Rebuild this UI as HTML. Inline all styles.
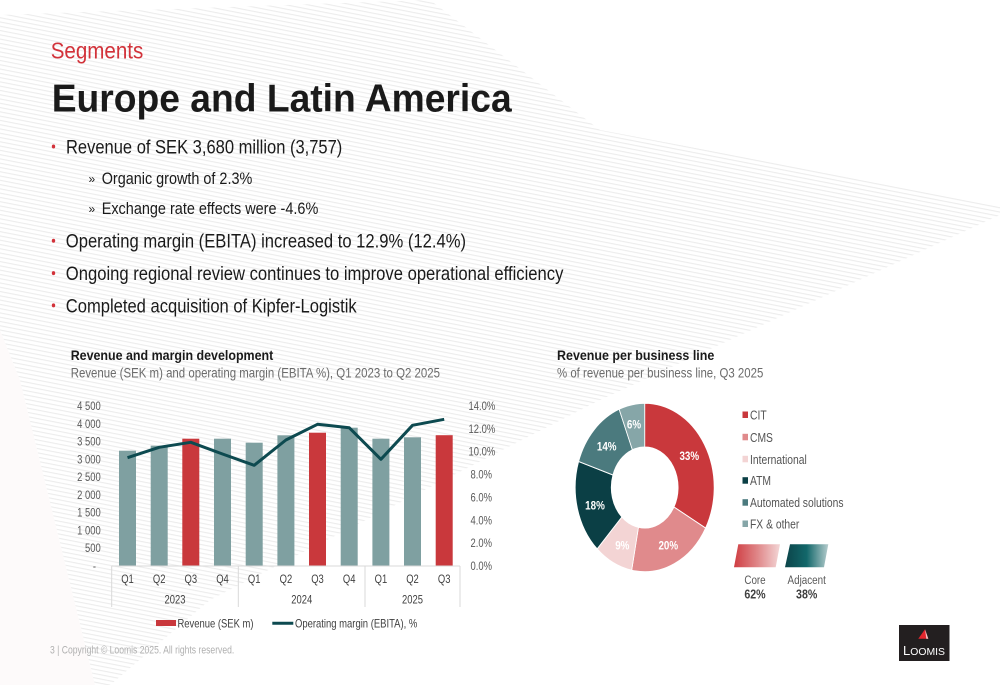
<!DOCTYPE html>
<html><head><meta charset="utf-8"><style>
html,body{margin:0;padding:0;background:#fff;}
svg{display:block;}
text{font-family:"Liberation Sans",Arial,sans-serif;}
</style></head><body>
<svg width="1000" height="685" viewBox="0 0 1000 685" xmlns="http://www.w3.org/2000/svg">
<defs>
<pattern id="st" patternUnits="userSpaceOnUse" width="20" height="4.2" patternTransform="rotate(11)">
<rect width="20" height="4.2" fill="#ffffff"/>
<rect y="0" width="20" height="1.1" fill="#ececec"/>
</pattern>
<linearGradient id="gcore" x1="0" x2="1" y1="0" y2="0">
<stop offset="0" stop-color="#cf3d42"/><stop offset="0.5" stop-color="#df8587"/><stop offset="1" stop-color="#f3d6d6"/>
</linearGradient>
<linearGradient id="gadj" x1="0" x2="1" y1="0" y2="0">
<stop offset="0" stop-color="#0c4449"/><stop offset="0.5" stop-color="#12676a"/><stop offset="1" stop-color="#b5cccd"/>
</linearGradient>
</defs>
<rect width="1000" height="685" fill="#fff"/>
<polygon points="0,330 20,380 95,685 0,685" fill="#fdfafa"/>
<polygon points="0,15 430,0 600,130 1000,205 1000,215 600,400 210,600 110,685 95,685 20,380 0,330" fill="url(#st)"/>

<!-- Header -->
<text x="50.7" y="58.3" font-size="23" fill="#d2323a" textLength="92.6" lengthAdjust="spacingAndGlyphs">Segments</text>
<text x="51.7" y="111.7" font-size="39" font-weight="bold" fill="#1a1a1a" textLength="460" lengthAdjust="spacingAndGlyphs">Europe and Latin America</text>

<!-- Bullets -->
<g fill="#d2323a">
<ellipse cx="53.5" cy="146.5" rx="1.7" ry="2"/>
<ellipse cx="53.5" cy="240.8" rx="1.7" ry="2"/>
<ellipse cx="53.5" cy="273.1" rx="1.7" ry="2"/>
<ellipse cx="53.5" cy="305.4" rx="1.7" ry="2"/>
</g>
<g fill="#1a1a1a" font-size="19.5">
<text x="66" y="153.3" textLength="276.3" lengthAdjust="spacingAndGlyphs">Revenue of SEK 3,680 million (3,757)</text>
<text x="65.8" y="247.7" textLength="400.2" lengthAdjust="spacingAndGlyphs">Operating margin (EBITA) increased to 12.9% (12.4%)</text>
<text x="65.8" y="280" textLength="497.6" lengthAdjust="spacingAndGlyphs">Ongoing regional review continues to improve operational efficiency</text>
<text x="65.8" y="312.3" textLength="290.9" lengthAdjust="spacingAndGlyphs">Completed acquisition of Kipfer-Logistik</text>
</g>
<g fill="#1a1a1a" font-size="17">
<text x="88.5" y="183" font-size="12">»</text>
<text x="101.7" y="184" textLength="150.6" lengthAdjust="spacingAndGlyphs">Organic growth of 2.3%</text>
<text x="88.5" y="213" font-size="12">»</text>
<text x="101.7" y="214" textLength="216.6" lengthAdjust="spacingAndGlyphs">Exchange rate effects were -4.6%</text>
</g>

<!-- Chart titles -->
<text x="70.7" y="360" font-size="14" font-weight="bold" fill="#1a1a1a" textLength="202.6" lengthAdjust="spacingAndGlyphs">Revenue and margin development</text>
<text x="70.7" y="377.3" font-size="14" fill="#6b6b6b" textLength="369.3" lengthAdjust="spacingAndGlyphs">Revenue (SEK m) and operating margin (EBITA %), Q1 2023 to Q2 2025</text>
<text x="557" y="360" font-size="14" font-weight="bold" fill="#1a1a1a" textLength="157.3" lengthAdjust="spacingAndGlyphs">Revenue per business line</text>
<text x="557" y="377.3" font-size="14" fill="#6b6b6b" textLength="206.3" lengthAdjust="spacingAndGlyphs">% of revenue per business line, Q3 2025</text>

<!-- Bar chart -->
<g fill="#7fa0a1">
<rect x="119" y="450.7" width="17" height="115.3"/>
<rect x="150.7" y="445.7" width="17" height="120.3"/>
<rect x="214" y="438.7" width="17" height="127.3"/>
<rect x="245.7" y="442.7" width="17" height="123.3"/>
<rect x="277.4" y="435.3" width="17" height="130.7"/>
<rect x="340.7" y="427.7" width="17" height="138.3"/>
<rect x="372.4" y="438.7" width="17" height="127.3"/>
<rect x="404" y="437.3" width="17" height="128.7"/>
</g>
<g fill="#c9383c">
<rect x="182.3" y="438.7" width="17" height="127.3"/>
<rect x="309" y="432.7" width="17" height="133.3"/>
<rect x="435.7" y="435.2" width="17" height="130.8"/>
</g>
<polyline points="127.5,457.7 159.2,447.3 190.8,442.3 222.5,454 254.2,465.3 285.9,440 317.5,424.3 349.2,427.7 380.9,459.3 412.5,425.3 444.2,419.3" fill="none" stroke="#0d4a50" stroke-width="3" stroke-linejoin="round"/>
<g stroke="#d9d9d9" stroke-width="1" fill="none">
<line x1="111.7" y1="566" x2="460" y2="566"/>
<line x1="111.7" y1="566" x2="111.7" y2="607"/>
<line x1="238.3" y1="566" x2="238.3" y2="607"/>
<line x1="365" y1="566" x2="365" y2="607"/>
<line x1="460" y1="566" x2="460" y2="607"/>
</g>
<g fill="#595959" font-size="11.5" text-anchor="end">
<text transform="translate(100.7 410) scale(.82 1)">4 500</text>
<text transform="translate(100.7 427.8) scale(.82 1)">4 000</text>
<text transform="translate(100.7 445.6) scale(.82 1)">3 500</text>
<text transform="translate(100.7 463.3) scale(.82 1)">3 000</text>
<text transform="translate(100.7 481.1) scale(.82 1)">2 500</text>
<text transform="translate(100.7 498.9) scale(.82 1)">2 000</text>
<text transform="translate(100.7 516.7) scale(.82 1)">1 500</text>
<text transform="translate(100.7 534.4) scale(.82 1)">1 000</text>
<text transform="translate(100.7 552.2) scale(.82 1)">500</text>
<text transform="translate(96 570) scale(.82 1)">-</text>
</g>
<g fill="#595959" font-size="11.5">
<text transform="translate(468.5 410) scale(.82 1)">14.0%</text>
<text transform="translate(468.5 432.9) scale(.82 1)">12.0%</text>
<text transform="translate(468.5 455.7) scale(.82 1)">10.0%</text>
<text transform="translate(470.5 478.6) scale(.82 1)">8.0%</text>
<text transform="translate(470.5 501.4) scale(.82 1)">6.0%</text>
<text transform="translate(470.5 524.3) scale(.82 1)">4.0%</text>
<text transform="translate(470.5 547.1) scale(.82 1)">2.0%</text>
<text transform="translate(470.5 570) scale(.82 1)">0.0%</text>
</g>
<g fill="#404040" font-size="11.5" text-anchor="middle">
<text transform="translate(127.5 583) scale(.82 1)">Q1</text>
<text transform="translate(159.2 583) scale(.82 1)">Q2</text>
<text transform="translate(190.8 583) scale(.82 1)">Q3</text>
<text transform="translate(222.5 583) scale(.82 1)">Q4</text>
<text transform="translate(254.2 583) scale(.82 1)">Q1</text>
<text transform="translate(285.9 583) scale(.82 1)">Q2</text>
<text transform="translate(317.5 583) scale(.82 1)">Q3</text>
<text transform="translate(349.2 583) scale(.82 1)">Q4</text>
<text transform="translate(380.9 583) scale(.82 1)">Q1</text>
<text transform="translate(412.5 583) scale(.82 1)">Q2</text>
<text transform="translate(444.2 583) scale(.82 1)">Q3</text>
<text transform="translate(175 603.5) scale(.82 1)">2023</text>
<text transform="translate(301.7 603.5) scale(.82 1)">2024</text>
<text transform="translate(412.5 603.5) scale(.82 1)">2025</text>
</g>
<rect x="156" y="620" width="20" height="6" fill="#c9383c"/>
<text x="177.5" y="627.3" font-size="12" fill="#404040" textLength="76" lengthAdjust="spacingAndGlyphs">Revenue (SEK m)</text>
<line x1="272.3" y1="623.3" x2="293.3" y2="623.3" stroke="#0d4a50" stroke-width="3"/>
<text x="295" y="627.3" font-size="12" fill="#404040" textLength="122.3" lengthAdjust="spacingAndGlyphs">Operating margin (EBITA), %</text>

<!-- Donut -->
<g transform="translate(644.7 487.5) scale(0.825 1)" stroke="#fff" stroke-width="1" vector-effect="non-scaling-stroke">
<path fill="#c9383c" d="M0,-84.2 A84.2,84.2 0 0 1 73.78,40.57 L35.49,19.51 A40.5,40.5 0 0 0 0,-40.5 Z"/>
<path fill="#e08a8c" d="M73.78,40.57 A84.2,84.2 0 0 1 -15.78,82.71 L-7.59,39.78 A40.5,40.5 0 0 0 35.49,19.51 Z"/>
<path fill="#f3d4d4" d="M-15.78,82.71 A84.2,84.2 0 0 1 -57.63,61.38 L-27.72,29.52 A40.5,40.5 0 0 0 -7.59,39.78 Z"/>
<path fill="#0b3f45" d="M-57.63,61.38 A84.2,84.2 0 0 1 -80.08,-26.02 L-38.52,-12.51 A40.5,40.5 0 0 0 -27.72,29.52 Z"/>
<path fill="#4b7a7e" d="M-80.08,-26.02 A84.2,84.2 0 0 1 -30.99,-78.29 L-14.91,-37.66 A40.5,40.5 0 0 0 -38.52,-12.51 Z"/>
<path fill="#86a6a8" d="M-30.99,-78.29 A84.2,84.2 0 0 1 0,-84.2 L0,-40.5 A40.5,40.5 0 0 0 -14.91,-37.66 Z"/>
</g>
<g fill="#fff" font-size="12" font-weight="bold" text-anchor="middle">
<text transform="translate(634 428.3) scale(.82 1)">6%</text>
<text transform="translate(689.3 460) scale(.82 1)">33%</text>
<text transform="translate(668.3 549.3) scale(.82 1)">20%</text>
<text transform="translate(622.3 549.3) scale(.82 1)">9%</text>
<text transform="translate(595 509.3) scale(.82 1)">18%</text>
<text transform="translate(606.7 450.3) scale(.82 1)">14%</text>
</g>
<!-- Donut legend -->
<rect x="742.5" y="411.5" width="5.5" height="6.5" fill="#c9383c"/>
<rect x="742.5" y="433.8" width="5.5" height="6.5" fill="#e08a8c"/>
<rect x="742.5" y="455.8" width="5.5" height="6.5" fill="#f3d4d4"/>
<rect x="742.5" y="477.2" width="5.5" height="6.5" fill="#0b3f45"/>
<rect x="742.5" y="499.2" width="5.5" height="6.5" fill="#4b7a7e"/>
<rect x="742.5" y="520.5" width="5.5" height="6.5" fill="#86a6a8"/>
<g fill="#555" font-size="12.6">
<text transform="translate(750 419.5) scale(.82 1)">CIT</text>
<text transform="translate(750 441.8) scale(.82 1)">CMS</text>
<text transform="translate(750 463.8) scale(.82 1)">International</text>
<text transform="translate(750 485.2) scale(.82 1)">ATM</text>
<text transform="translate(750 507.2) scale(.82 1)">Automated solutions</text>
<text transform="translate(750 528.5) scale(.82 1)">FX &amp; other</text>
</g>
<polygon points="738.3,544.3 780,544.3 775.7,567.3 734,567.3" fill="url(#gcore)"/>
<polygon points="790,544.3 828.3,544.3 824,567.3 785,567.3" fill="url(#gadj)"/>
<g text-anchor="middle">
<text transform="translate(755 584) scale(.82 1)" font-size="12" fill="#595959">Core</text>
<text transform="translate(755 598.3) scale(.82 1)" font-size="13" font-weight="bold" fill="#404040">62%</text>
<text transform="translate(806.7 584) scale(.82 1)" font-size="12" fill="#595959">Adjacent</text>
<text transform="translate(806.7 598.3) scale(.82 1)" font-size="13" font-weight="bold" fill="#404040">38%</text>
</g>

<!-- Footer -->
<text x="50" y="653.3" font-size="11" fill="#b0b0b0" textLength="184.3" lengthAdjust="spacingAndGlyphs">3  |  Copyright © Loomis 2025. All rights reserved.</text>

<!-- Logo -->
<rect x="899" y="625" width="50.5" height="36" fill="#231f20"/>
<polygon points="925,629.3 918.3,638.7 928.3,638.7" fill="#e3262d"/>
<polygon points="925,629.3 928.3,638.7 926.3,638.7" fill="#f4c4c4"/>
<text x="903" y="655" font-family="Liberation Serif, serif" font-size="10" fill="#fff" textLength="42" lengthAdjust="spacingAndGlyphs"><tspan font-size="12.5">L</tspan>OOMIS</text>
</svg>
</body></html>
